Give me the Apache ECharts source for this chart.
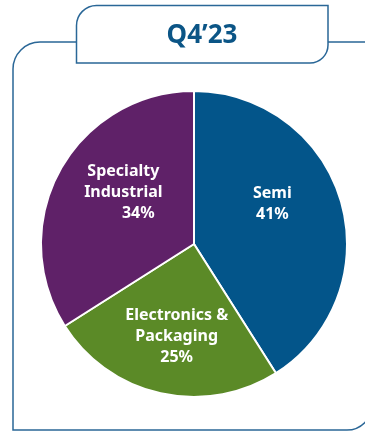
<!DOCTYPE html>
<html>
<head>
<meta charset="utf-8">
<script src="https://cdn.jsdelivr.net/npm/echarts@6/dist/echarts.min.js"></script>
<style>
html,body{margin:0;padding:0;background:#fff;}
#chart{width:365px;height:434px;}
</style>
</head>
<body>
<div id="chart"></div>
<script>
const title = 'Q4\u201923';
const categories = ['Semi', 'Electronics &\nPackaging', 'Specialty\nIndustrial'];
const values = [41, 25, 34];
const colors = ['#03558a', '#5b8a27', '#5f2168'];
const labelPadding = [[0, 0, 36, 4], [30, 0, 0, 0], [0, 0, 26, -2]];
const pctIndent = [0, 0, 30];

const chart = echarts.init(document.getElementById('chart'));
const frameColor = '#2a6797';
const font = '"Noto Sans", sans-serif';
const txt = { color: '#fff', fontWeight: 'bold', fontSize: 16, fontFamily: font, lineHeight: 21 };

const data = categories.map((c, i) => ({
  name: c,
  value: values[i],
  itemStyle: { color: colors[i] },
  label: {
    formatter: '{n|{b}}\n{p|{d}%}',
    padding: labelPadding[i],
    rich: {
      n: Object.assign({}, txt),
      p: Object.assign({}, txt, { padding: [0, 0, 0, pctIndent[i]] })
    }
  }
}));

chart.setOption({
  animation: false,
  graphic: [
    {
      type: 'rect', z: 0,
      shape: { x: 13, y: 42, width: 359, height: 388, r: [27, 0, 25, 0] },
      style: { fill: 'none', stroke: frameColor, lineWidth: 1.5 }
    },
    {
      type: 'rect', z: 1,
      shape: { x: 76.5, y: 5.5, width: 251.5, height: 57.5, r: [20, 0, 18, 0] },
      style: { fill: '#fff', stroke: frameColor, lineWidth: 1.5 }
    },
    {
      type: 'text', z: 2,
      style: { text: title, x: 202, y: 36, align: 'center', verticalAlign: 'middle',
        fill: '#0b5586', font: 'bold 26px "Noto Sans", sans-serif' }
    }
  ],
  series: [{
    type: 'pie',
    center: [194, 244],
    radius: 153,
    startAngle: 90,
    clockwise: true,
    silent: true,
    itemStyle: { borderColor: '#fff', borderWidth: 2 },
    label: {
      show: true,
      position: 'inside',
      align: 'center'
    },
    labelLine: { show: false },
    data: data
  }]
});
</script>
</body>
</html>
